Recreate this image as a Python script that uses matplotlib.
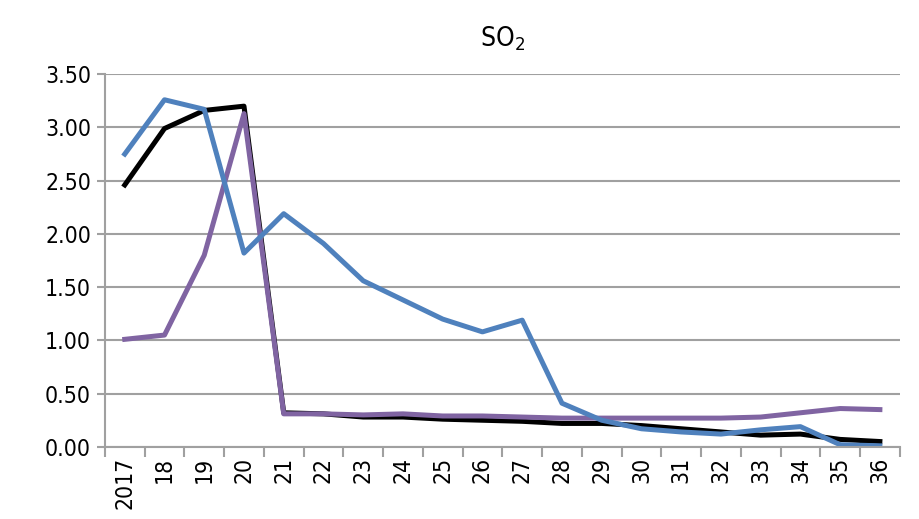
import numpy as np
import matplotlib.pyplot as plt

years = ['2017', '18', '19', '20', '21', '22', '23', '24', '25', '26',
         '27', '28', '29', '30', '31', '32', '33', '34', '35', '36']

black_vals = [2.46, 2.99, 3.16, 3.20, 0.32, 0.31, 0.28, 0.28, 0.26, 0.25,
              0.24, 0.22, 0.22, 0.20, 0.17, 0.14, 0.11, 0.12, 0.07, 0.05]
blue_vals = [2.75, 3.26, 3.17, 1.82, 2.19, 1.91, 1.56, 1.38, 1.20, 1.08,
             1.19, 0.41, 0.25, 0.17, 0.14, 0.12, 0.16, 0.19, 0.02, 0.01]
purple_vals = [1.01, 1.05, 1.80, 3.13, 0.31, 0.31, 0.30, 0.31, 0.29, 0.29,
               0.28, 0.27, 0.27, 0.27, 0.27, 0.27, 0.28, 0.32, 0.36, 0.35]

plt.rcParams['font.family'] = ['DejaVu Sans']
plt.rcParams['font.stretch'] = 'condensed'

fig = plt.figure(figsize=(9.2, 5.19), dpi=100)
ax = fig.add_axes([0.114, 0.139, 0.864, 0.718])

x = np.arange(len(years))
ax.plot(x, black_vals, color='black', lw=3.6)
ax.plot(x, purple_vals, color='#8064A2', lw=3.6)
ax.plot(x, blue_vals, color='#4F81BD', lw=3.6)

ax.set_xlim(-0.5, len(years) - 0.5)
ax.set_ylim(0, 3.5)
ax.set_yticks(np.arange(0, 3.51, 0.5))
ax.set_yticklabels(['%.2f' % v for v in np.arange(0, 3.51, 0.5)], fontsize=16.5)
ax.yaxis.grid(True, color='#A0A0A0', lw=1.5)
ax.set_axisbelow(True)

ax.set_xticks(x)
ax.set_xticklabels(years, rotation=90, fontsize=16.5)
ax.set_xticks(np.arange(-0.5, len(years), 1), minor=True)
ax.tick_params(axis='x', which='major', length=0, pad=7)
ax.tick_params(axis='x', which='minor', length=7, width=1.5, color='#A0A0A0')
ax.tick_params(axis='y', length=6, width=1.5, color='#A0A0A0', pad=4)

for s in ['top', 'right']:
    ax.spines[s].set_visible(False)
for s in ['left', 'bottom']:
    ax.spines[s].set_color('#A0A0A0')
    ax.spines[s].set_linewidth(1.5)

ax.set_title('SO$_2$', fontsize=19, pad=20)

fig.savefig('out.png', dpi=100)
